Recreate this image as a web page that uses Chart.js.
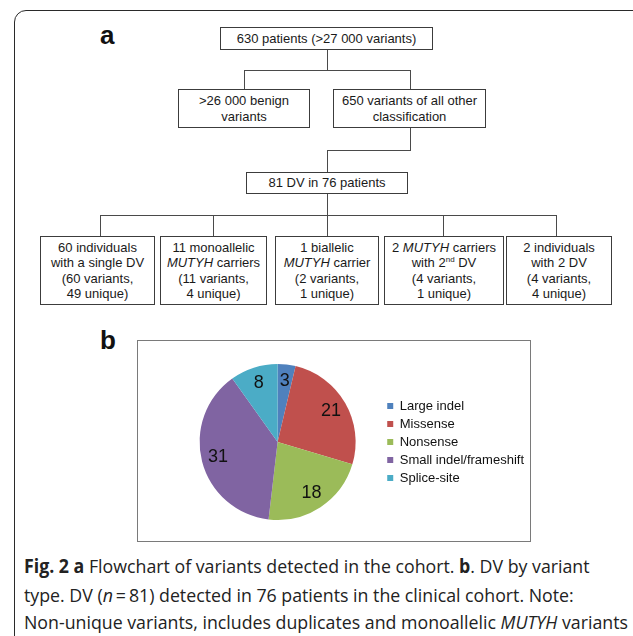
<!DOCTYPE html>
<html>
<head>
<meta charset="utf-8">
<script src="https://cdn.jsdelivr.net/npm/chart.js@4.4.1/dist/chart.umd.min.js"></script>
<style>
  html, body { margin: 0; padding: 0; background: #fff; }
  body { width: 633px; height: 636px; position: relative; overflow: hidden; font-family: "Liberation Sans", Arial, sans-serif; color: #1a1a1a; }
  .frame { position: absolute; left: 14px; top: 10px; width: 700px; height: 700px; border: 1.5px solid #2a2a2a; border-radius: 12px; box-sizing: border-box; }
  .panel-label { position: absolute; font: bold 26px "Liberation Sans", Arial, sans-serif; color: #111; line-height: 1; }
  .box { position: absolute; box-sizing: border-box; border: 1.3px solid #3c3c3c; display: flex; align-items: center; justify-content: center; text-align: center; font-size: 13px; line-height: 15.5px; background: #fff; }
  .box > span { display: block; }
  .hl, .vl { position: absolute; background: #4a4a4a; }
  .hl { height: 1px; }
  .vl { width: 1px; }
  sup { font-size: 8px; line-height: 0; }
  .pie-panel { position: absolute; left: 137px; top: 340px; width: 394px; height: 202px; box-sizing: border-box; border: 1.3px solid #7a7a7a; }
  #pieChart { position: absolute; left: 1px; top: 1px; }
  .caption { position: absolute; left: 24px; white-space: nowrap; font-family: "Open Sans", sans-serif; font-size: 19px; line-height: 21px; color: #222; transform-origin: 0 50%; }
  .caption b { font-weight: 700; }
</style>
</head>
<body>
<div class="frame"></div>

<div class="panel-label" style="left:100px; top:22px;">a</div>

<!-- flowchart connectors -->
<div class="vl" style="left:327px; top:50px; height:20px;"></div>
<div class="hl" style="left:244px; top:70px; width:167px;"></div>
<div class="vl" style="left:244px; top:70px; height:20px;"></div>
<div class="vl" style="left:410px; top:70px; height:20px;"></div>
<div class="vl" style="left:410px; top:128px; height:23px;"></div>
<div class="hl" style="left:327px; top:150px; width:84px;"></div>
<div class="vl" style="left:327px; top:150px; height:22px;"></div>
<div class="vl" style="left:327px; top:194px; height:21px;"></div>
<div class="hl" style="left:100px; top:215px; width:457px;"></div>
<div class="vl" style="left:100px; top:215px; height:21px;"></div>
<div class="vl" style="left:213px; top:215px; height:21px;"></div>
<div class="vl" style="left:327px; top:215px; height:21px;"></div>
<div class="vl" style="left:443px; top:215px; height:21px;"></div>
<div class="vl" style="left:556px; top:215px; height:21px;"></div>

<!-- flowchart boxes -->
<div class="box" style="left:220px; top:27px; width:213px; height:23px;"><span>630 patients (&gt;27 000 variants)</span></div>
<div class="box" style="left:178px; top:89px; width:132px; height:39px;"><span>&gt;26 000 benign<br>variants</span></div>
<div class="box" style="left:333px; top:89px; width:153px; height:39px;"><span>650 variants of all other<br>classification</span></div>
<div class="box" style="left:246px; top:172px; width:162px; height:22px;"><span>81 DV in 76 patients</span></div>
<div class="box" style="left:40px; top:236px; width:115px; height:69px;"><span>60 individuals<br>with a single DV<br>(60 variants,<br>49 unique)</span></div>
<div class="box" style="left:160px; top:236px; width:107px; height:69px;"><span>11 monoallelic<br><i>MUTYH</i> carriers<br>(11 variants,<br>4 unique)</span></div>
<div class="box" style="left:275px; top:236px; width:104px; height:69px;"><span>1 biallelic<br><i>MUTYH</i> carrier<br>(2 variants,<br>1 unique)</span></div>
<div class="box" style="left:384px; top:236px; width:120px; height:69px;"><span>2 <i>MUTYH</i> carriers<br>with 2<sup>nd</sup> DV<br>(4 variants,<br>1 unique)</span></div>
<div class="box" style="left:506px; top:236px; width:106px; height:69px;"><span>2 individuals<br>with 2 DV<br>(4 variants,<br>4 unique)</span></div>

<div class="panel-label" style="left:100px; top:327px;">b</div>
<div class="pie-panel">
  <canvas id="pieChart" width="400" height="200"></canvas>
</div>

<div class="caption" style="top:556px;"><b>Fig. 2 a</b> Flowchart of variants detected in the cohort. <b>b</b>. DV by variant</div>
<div class="caption" style="top:585px;">type. DV (<i>n</i>&#8201;=&#8201;81) detected in 76 patients in the clinical cohort. Note:</div>
<div class="caption" style="top:612px;">Non-unique variants, includes duplicates and monoallelic <i>MUTYH</i> variants</div>

<script>
// DV by variant type (panel b)
const variantTypes = ['Large indel', 'Missense', 'Nonsense', 'Small indel/frameshift', 'Splice-site'];
const variantCounts = [3, 21, 18, 31, 8];
const sliceColors = ['#4f81bd', '#c0504d', '#9bbb59', '#8064a2', '#4bacc6'];

// caption font is narrower in the figure: squeeze all lines by the same factor
const captionLines = document.querySelectorAll('.caption');
const lastLineWidth = captionLines[2].getBoundingClientRect().width;
const captionScale = 604 / lastLineWidth;
captionLines.forEach((el) => {
    el.style.transform = 'scaleX(' + captionScale + ')';
});

// writes each count inside its slice, near the outer edge
const sliceValueLabels = {
    id: 'sliceValueLabels',
    afterDatasetsDraw(chart) {
        const ctx = chart.ctx;
        const meta = chart.getDatasetMeta(0);
        const values = chart.data.datasets[0].data;
        ctx.save();
        ctx.font = '18px "Liberation Sans", Arial, sans-serif';
        ctx.fillStyle = '#111';
        ctx.textAlign = 'center';
        ctx.textBaseline = 'middle';
        meta.data.forEach((arc, i) => {
            const p = arc.getProps(['x', 'y', 'startAngle', 'endAngle', 'outerRadius'], true);
            const mid = (p.startAngle + p.endAngle) / 2;
            const r = p.outerRadius * 0.79;
            ctx.fillText(String(values[i]), p.x + Math.cos(mid) * r, p.y + Math.sin(mid) * r);
        });
        ctx.restore();
    },
};

new Chart(document.getElementById('pieChart'), {
    type: 'pie',
    data: {
        labels: variantTypes,
        datasets: [{
            data: variantCounts,
            backgroundColor: sliceColors,
            borderWidth: 0,
        }],
    },
    options: {
        responsive: false,
        animation: false,
        radius: 78,
        layout: { padding: { left: 34, right: 5, top: 0, bottom: 0 } },
        plugins: {
            tooltip: { enabled: false },
            legend: {
                position: 'right',
                labels: {
                    boxWidth: 6,
                    boxHeight: 6,
                    padding: 5,
                    color: '#111',
                    font: { family: '"Liberation Sans", Arial, sans-serif', size: 13 },
                },
            },
        },
    },
    plugins: [sliceValueLabels],
});
</script>
</body>
</html>
